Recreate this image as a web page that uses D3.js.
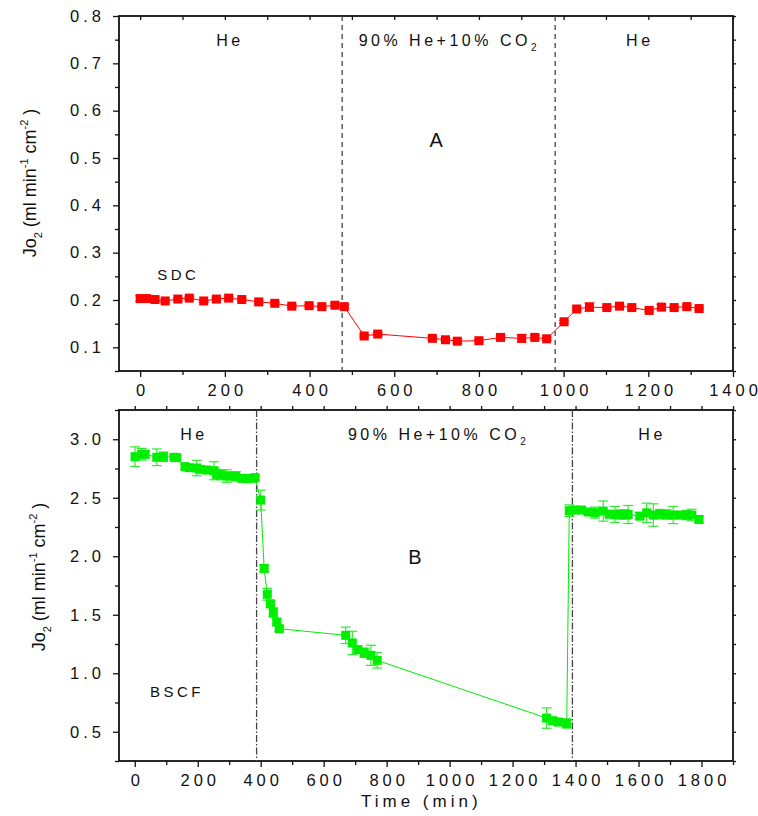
<!DOCTYPE html>
<html>
<head>
<meta charset="utf-8">
<script src="https://cdn.jsdelivr.net/npm/d3@7"></script>
<style>
  body { margin: 0; background: #fff; }
  text { font-family: "Liberation Sans", Arial, sans-serif; fill: #111; }
</style>
</head>
<body>
<div id="chart"></div>
<script>
// ---- panel A : SDC ----
const sdcTime = [0, 15, 35, 59, 89, 116, 150, 180, 209, 240, 280, 318, 358, 399, 429, 460, 482,
    529, 561, 690, 721, 749, 800, 851, 901, 932, 960,
    1001, 1031, 1061, 1102, 1132, 1161, 1202, 1231, 1261, 1291, 1320];
const sdcFlux = [0.203, 0.203, 0.201, 0.198, 0.202, 0.204, 0.198, 0.202, 0.204, 0.201, 0.196, 0.193, 0.187, 0.188, 0.186, 0.189, 0.186,
    0.124, 0.128, 0.119, 0.116, 0.113, 0.114, 0.121, 0.119, 0.121, 0.118,
    0.154, 0.181, 0.185, 0.184, 0.187, 0.184, 0.178, 0.185, 0.184, 0.186, 0.182];
const sdcErr = [0.006, 0.004, 0.004, 0.003, 0.003, 0.003, 0.003, 0.003, 0.003, 0.003, 0.003, 0.003, 0.003, 0.003, 0.003, 0.003, 0.004,
    0.003, 0.003, 0.003, 0.003, 0.004, 0.003, 0.003, 0.008, 0.004, 0.003,
    0.003, 0.003, 0.009, 0.003, 0.003, 0.004, 0.003, 0.006, 0.003, 0.003, 0.003];

// ---- panel B : BSCF ----
const bscfTime = [1, 22, 33, 70, 91, 125, 133, 160, 173, 197, 207, 228, 252, 260, 273, 292, 305, 321, 340, 356, 371, 382,
    400, 411, 421, 431, 440, 451, 459,
    670, 691, 708, 729, 750, 770,
    1308, 1327, 1345, 1372,
    1380, 1398, 1419, 1440, 1462, 1488, 1507, 1525, 1541, 1557, 1567, 1604, 1626, 1647, 1668, 1689, 1710, 1731, 1753, 1769, 1792];
const bscfFlux = [2.851, 2.872, 2.872, 2.846, 2.851, 2.846, 2.843, 2.766, 2.757, 2.754, 2.743, 2.737, 2.731, 2.703, 2.694, 2.686, 2.686, 2.683, 2.666, 2.663, 2.666, 2.672,
    2.48, 1.896, 1.675, 1.593, 1.519, 1.438, 1.381,
    1.324, 1.259, 1.202, 1.176, 1.153, 1.11,
    0.617, 0.594, 0.583, 0.571,
    2.389, 2.395, 2.395, 2.378, 2.373, 2.386, 2.36, 2.357, 2.357, 2.357, 2.357, 2.343, 2.371, 2.352, 2.36, 2.357, 2.352, 2.352, 2.352, 2.352, 2.315];
const bscfErr = [0.084, 0.05, 0.03, 0.071, 0.04, 0.02, 0.02, 0.02, 0.02, 0.066, 0.03, 0.03, 0.077, 0.04, 0.04, 0.054, 0.03, 0.04, 0.03, 0.02, 0.02, 0.02,
    0.085, 0.03, 0.05, 0.03, 0.04, 0.03, 0.02,
    0.07, 0.1, 0.03, 0.04, 0.086, 0.066,
    0.087, 0.03, 0.03, 0.04,
    0.05, 0.03, 0.02, 0.02, 0.047, 0.086, 0.03, 0.069, 0.04, 0.04, 0.077, 0.03, 0.083, 0.096, 0.04, 0.04, 0.073, 0.03, 0.04, 0.05, 0.03];

// gas switch times (min)
const sdcSwitch = [477, 980];
const bscfSwitch = [387, 1390];

const topXTicks = [0, 200, 400, 600, 800, 1000, 1200, 1400];
const botXTicks = [0, 200, 400, 600, 800, 1000, 1200, 1400, 1600, 1800];
const topYTicks = [0.1, 0.2, 0.3, 0.4, 0.5, 0.6, 0.7, 0.8];
const botYTicks = [0.5, 1.0, 1.5, 2.0, 2.5, 3.0];

const width = 758, height = 816;
const left = 119, right = 733;
const spacing = 4;

const svg = d3.select("#chart")
    .append("svg")
    .attr("width", width)
    .attr("height", height);

// wide Origin-like tick labels, without trailing space after the last digit
function spaceOut(sel) {
    sel.each(function() {
        const t = d3.select(this);
        const s = t.text();
        t.text(s.slice(0, -1));
        t.append("tspan").style("letter-spacing", "0px").text(s.slice(-1));
    });
}

function drawPanel(p) {
    const x = d3.scaleLinear().domain(p.xDomain).range([left, right]);
    const y = d3.scaleLinear().domain(p.yDomain).range([p.bottom, p.top]);
    const g = svg.append("g");

    const data = p.time.map((t, i) => ({t: t, v: p.flux[i], e: p.err[i]}));

    // bottom axis: major + minor
    const xMinor = d3.range(0, p.xDomain[1] + 1, 100).filter(d => d % 200 !== 0);
    const bx = g.append("g").attr("transform", `translate(0,${p.bottom})`);
    bx.call(d3.axisBottom(x).tickValues(p.xTicks).tickFormat(d3.format("d")).tickSize(6).tickPadding(7));
    bx.append("g").call(d3.axisBottom(x).tickValues(xMinor).tickFormat("").tickSize(4));

    // top border ticks
    const tx = g.append("g").attr("transform", `translate(0,${p.top})`);
    tx.call(d3.axisTop(x).tickValues(d3.range(0, p.xDomain[1] + 1, 100)).tickFormat("").tickSize(p.topTick));

    // left axis: major + minor
    const yMinor = d3.range(p.yDomain[0], p.yDomain[1] + 1e-9, p.yStep / 2)
        .filter(v => !p.yTicks.some(t => Math.abs(t - v) < 1e-6));
    const ly = g.append("g").attr("transform", `translate(${left},0)`);
    ly.call(d3.axisLeft(y).tickValues(p.yTicks).tickFormat(d3.format(".1f")).tickSize(6).tickPadding(12));
    ly.append("g").call(d3.axisLeft(y).tickValues(yMinor).tickFormat("").tickSize(4));

    // right border ticks
    const ry = g.append("g").attr("transform", `translate(${right},0)`);
    ry.call(d3.axisRight(y).tickValues(p.yTicks.concat(yMinor)).tickFormat("").tickSize(3));

    g.selectAll(".domain").remove();
    g.selectAll(".tick line").attr("stroke", "#111").attr("stroke-width", 1.3);
    g.selectAll(".tick text")
        .attr("fill", "#111")
        .style("font-size", "16.5px")
        .style("letter-spacing", spacing + "px")
        .style("font-family", "'Liberation Sans', Arial, sans-serif")
        .call(spaceOut);

    // frame
    g.append("rect")
        .attr("x", left)
        .attr("y", p.top)
        .attr("width", right - left)
        .attr("height", p.bottom - p.top)
        .attr("fill", "none")
        .attr("stroke", "#111")
        .attr("stroke-width", 1.8);

    // gas switch lines
    g.selectAll(".switch")
        .data(p.switches)
        .join("line")
        .attr("x1", d => x(d))
        .attr("x2", d => x(d))
        .attr("y1", p.top)
        .attr("y2", p.bottom)
        .attr("stroke", "#444")
        .attr("stroke-width", 1.3)
        .attr("stroke-dasharray", p.dash);

    // connecting line
    g.append("path")
        .datum(data)
        .attr("fill", "none")
        .attr("stroke", p.color)
        .attr("stroke-width", 1)
        .attr("d", d3.line().x(d => x(d.t)).y(d => y(d.v)));

    // error bars
    const eb = g.selectAll(".err")
        .data(data)
        .join("g")
        .attr("stroke", p.errColor)
        .attr("stroke-width", 1.2);
    eb.append("line")
        .attr("x1", d => x(d.t)).attr("x2", d => x(d.t))
        .attr("y1", d => y(d.v - d.e)).attr("y2", d => y(d.v + d.e));
    eb.append("line")
        .attr("x1", d => x(d.t) - 5).attr("x2", d => x(d.t) + 5)
        .attr("y1", d => y(d.v - d.e)).attr("y2", d => y(d.v - d.e));
    eb.append("line")
        .attr("x1", d => x(d.t) - 5).attr("x2", d => x(d.t) + 5)
        .attr("y1", d => y(d.v + d.e)).attr("y2", d => y(d.v + d.e));

    // squares
    g.selectAll(".pt")
        .data(data)
        .join("rect")
        .attr("x", d => x(d.t) - 4.5)
        .attr("y", d => y(d.v) - 4.5)
        .attr("width", 9)
        .attr("height", 9)
        .attr("fill", p.color);

    // gas labels
    const lab = g.selectAll(".gas")
        .data(p.gasLabels)
        .join("text")
        .attr("x", d => x(d.t))
        .attr("y", p.top + 30)
        .attr("text-anchor", "middle")
        .style("font-size", "16px")
        .style("letter-spacing", "3.5px");
    lab.append("tspan").text(d => d.text);
    lab.filter(d => d.sub).append("tspan")
        .attr("dy", 5)
        .style("font-size", "10px")
        .text(d => d.sub);

    // panel letter and material name
    g.append("text")
        .attr("x", x(p.letterPos[0]))
        .attr("y", y(p.letterPos[1]))
        .attr("text-anchor", "middle")
        .style("font-size", "20px")
        .text(p.letter);
    g.append("text")
        .attr("x", x(p.namePos[0]))
        .attr("y", y(p.namePos[1]))
        .attr("text-anchor", "middle")
        .style("font-size", "15px")
        .style("letter-spacing", "3.5px")
        .text(p.name);

    // y title
    const yt = g.append("text")
        .attr("transform", `translate(${p.yTitleX},${p.yTitleY}) rotate(-90)`)
        .attr("text-anchor", "middle")
        .style("font-size", "18px");
    yt.append("tspan").text("Jo");
    yt.append("tspan").attr("dy", 6).style("font-size", "11px").text("2");
    yt.append("tspan").attr("dy", -6).text(" (ml min");
    yt.append("tspan").attr("dy", -8).style("font-size", "11px").text("-1");
    yt.append("tspan").attr("dy", 8).text("  cm");
    yt.append("tspan").attr("dy", -8).style("font-size", "11px").text("-2");
    yt.append("tspan").attr("dy", 8).text(" )");

    return x;
}

drawPanel({
    time: sdcTime, flux: sdcFlux, err: sdcErr,
    xDomain: [-50, 1400], yDomain: [0.05, 0.8], yStep: 0.1,
    xTicks: topXTicks, yTicks: topYTicks,
    top: 16, bottom: 371, topTick: -4,
    switches: sdcSwitch, dash: "5,4",
    color: "#ff0000", errColor: "#ff4444",
    gasLabels: [
        {t: 212, text: "He"},
        {t: 730, text: "90% He+10% CO", sub: "2"},
        {t: 1180, text: "He"}
    ],
    letter: "A", letterPos: [699, 0.524],
    name: "SDC", namePos: [90, 0.242],
    yTitleX: 36, yTitleY: 183
});

const bx = drawPanel({
    time: bscfTime, flux: bscfFlux, err: bscfErr,
    xDomain: [-50, 1900], yDomain: [0.25, 3.25], yStep: 0.5,
    xTicks: botXTicks, yTicks: botYTicks,
    top: 410, bottom: 761, topTick: 4,
    switches: bscfSwitch, dash: "7,2,1.5,2",
    color: "#00ee00", errColor: "#33e833",
    gasLabels: [
        {t: 188, text: "He"},
        {t: 965, text: "90% He+10% CO", sub: "2"},
        {t: 1643, text: "He"}
    ],
    letter: "B", letterPos: [890, 1.93],
    name: "BSCF", namePos: [134, 0.80],
    yTitleX: 45, yTitleY: 577
});

// x title (bottom only)
svg.append("text")
    .attr("x", bx(910))
    .attr("y", 807)
    .attr("text-anchor", "middle")
    .style("font-size", "17px")
    .style("letter-spacing", "4px")
    .text("Time (min)");
</script>
</body>
</html>
